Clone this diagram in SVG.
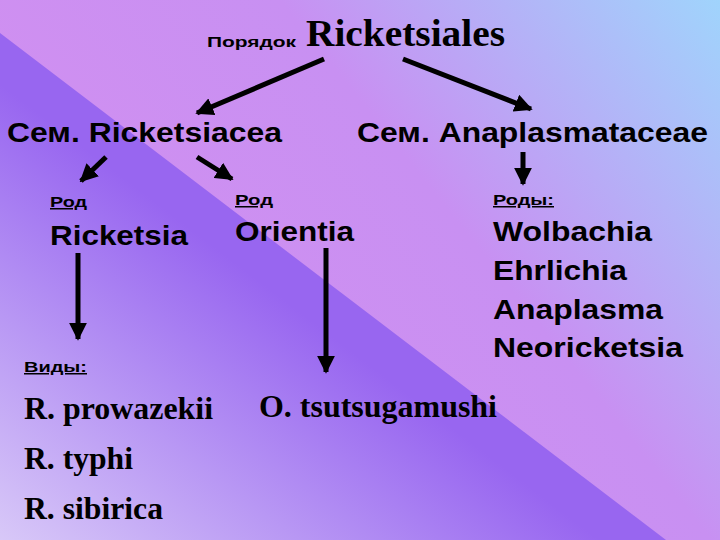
<svg xmlns="http://www.w3.org/2000/svg" width="720" height="540" viewBox="0 0 720 540">
<defs>
<linearGradient id="gU" x1="0" y1="0.6" x2="1" y2="0"><stop offset="0" stop-color="#d48ff0"/><stop offset="0.55" stop-color="#c890f2"/><stop offset="1" stop-color="#a0d4fc"/></linearGradient>
<linearGradient id="gL" x1="0" y1="1" x2="0.45" y2="0.55"><stop offset="0" stop-color="#d8c8f8"/><stop offset="1" stop-color="#9866f0"/></linearGradient>
<marker id="ah" viewBox="0 0 10 10" refX="9" refY="5" markerWidth="3.6" markerHeight="3.6" orient="auto" markerUnits="strokeWidth"><path d="M0,0 L10,5 L0,10 z" fill="#000"/></marker>
<style>
.s{font-family:"Liberation Sans",Arial,sans-serif;font-weight:bold;fill:#000}
.r{font-family:"Liberation Serif","Times New Roman",serif;font-weight:bold;fill:#000}
.c path{stroke:#000;stroke-width:5;fill:none;marker-end:url(#ah)}
</style>
</defs>
<rect width="720" height="540" fill="url(#gU)"/>
<polygon points="0,33 666,540 0,540" fill="url(#gL)"/>
<g class="c" id="connectors">
<path d="M324,59 L197,113"/>
<path d="M403,59 L531,109"/>
<path d="M106,157 L81,181"/>
<path d="M197,157 L232,179"/>
<path d="M523,152 L523,184"/>
<path d="M78,253 L78,339"/>
<path d="M326,248 L326,372"/>
</g>
<g id="order"><text class="s" x="207" y="47" font-size="15" textLength="89" lengthAdjust="spacingAndGlyphs">Порядок</text><text class="r" x="306" y="46" font-size="37" textLength="199" lengthAdjust="spacingAndGlyphs">Ricketsiales</text></g>
<g id="fam1"><text class="s" x="7" y="142" font-size="27" textLength="275" lengthAdjust="spacingAndGlyphs">Сем. Ricketsiacea</text></g>
<g id="fam2"><text class="s" x="357" y="142" font-size="27" textLength="351" lengthAdjust="spacingAndGlyphs">Сем. Anaplasmataceae</text></g>
<g id="gen1"><text class="s" x="50" y="207" font-size="15" text-decoration="underline" textLength="37" lengthAdjust="spacingAndGlyphs">Род</text><text class="s" x="50" y="245" font-size="28" textLength="138" lengthAdjust="spacingAndGlyphs">Ricketsia</text></g>
<g id="gen2"><text class="s" x="235" y="205" font-size="15" text-decoration="underline" textLength="38" lengthAdjust="spacingAndGlyphs">Род</text><text class="s" x="235" y="241" font-size="28" textLength="119" lengthAdjust="spacingAndGlyphs">Orientia</text></g>
<g id="gen3"><text class="s" x="493" y="205" font-size="15" text-decoration="underline" textLength="61" lengthAdjust="spacingAndGlyphs">Роды:</text>
<text class="s" x="493" y="241" font-size="28" textLength="159" lengthAdjust="spacingAndGlyphs">Wolbachia</text>
<text class="s" x="493" y="280" font-size="28" textLength="134" lengthAdjust="spacingAndGlyphs">Ehrlichia</text>
<text class="s" x="493" y="319" font-size="28" textLength="170" lengthAdjust="spacingAndGlyphs">Anaplasma</text>
<text class="s" x="493" y="357" font-size="28" textLength="190" lengthAdjust="spacingAndGlyphs">Neoricketsia</text></g>
<g id="sp1"><text class="s" x="24" y="372" font-size="15" text-decoration="underline" textLength="63" lengthAdjust="spacingAndGlyphs">Виды:</text>
<text class="r" x="24" y="419" font-size="31" textLength="189" lengthAdjust="spacingAndGlyphs">R. prowazekii</text>
<text class="r" x="24" y="469" font-size="31" textLength="109" lengthAdjust="spacingAndGlyphs">R. typhi</text>
<text class="r" x="24" y="519" font-size="31" textLength="139" lengthAdjust="spacingAndGlyphs">R. sibirica</text></g>
<g id="sp2"><text class="r" x="259" y="417" font-size="31" textLength="238" lengthAdjust="spacingAndGlyphs">O. tsutsugamushi</text></g>
</svg>
